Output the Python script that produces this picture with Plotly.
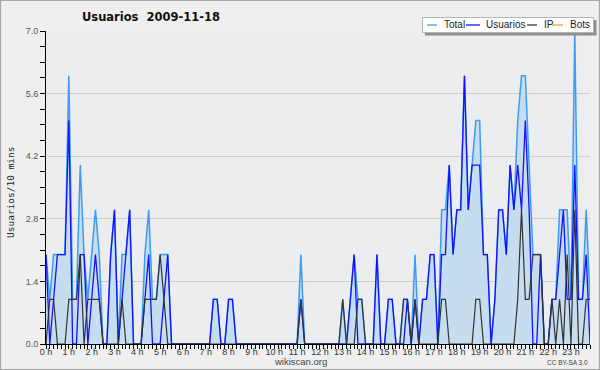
import plotly.graph_objects as go

# ---------------- data (10-minute slots, 2009-11-18) ----------------
HOURS = ["0 h", "1 h", "2 h", "3 h", "4 h", "5 h", "6 h", "7 h", "8 h", "9 h",
         "10 h", "11 h", "12 h", "13 h", "14 h", "15 h", "16 h", "17 h", "18 h",
         "19 h", "20 h", "21 h", "22 h", "23 h"]

TOTAL = [2, 1, 2, 2, 2, 2, 6, 1, 1, 4,
         2, 1, 2, 3, 2, 0, 0, 2, 3, 0,
         2, 2, 3, 0, 0, 0, 2, 3, 1, 1,
         2, 2, 2, 0, 0, 0, 0, 0, 0, 0,
         0, 0, 0, 0, 1, 1, 0, 0, 1, 1,
         0, 0, 0, 0, 0, 0, 0, 0, 0, 0,
         0, 0, 0, 0, 0, 0, 0, 2, 0, 0,
         0, 0, 0, 0, 0, 0, 0, 0, 1, 0,
         1, 2, 1, 1, 0, 0, 0, 2, 0, 0,
         1, 1, 0, 0, 1, 1, 0, 2, 0, 1,
         1, 2, 2, 0, 3, 3, 4, 2, 3, 3,
         6, 3, 4, 5, 5, 2, 2, 0, 1, 3,
         3, 2, 4, 3, 5, 6, 6, 4, 2, 2,
         2, 0, 0, 1, 1, 3, 3, 3, 1, 7,
         1, 1, 3, 1]

USUARIOS = [2, 0, 1, 2, 2, 2, 5, 0, 0, 2,
            2, 0, 1, 2, 1, 0, 0, 2, 3, 0,
            1, 2, 3, 0, 0, 0, 1, 2, 0, 0,
            0, 1, 2, 0, 0, 0, 0, 0, 0, 0,
            0, 0, 0, 0, 1, 1, 0, 0, 1, 1,
            0, 0, 0, 0, 0, 0, 0, 0, 0, 0,
            0, 0, 0, 0, 0, 0, 0, 1, 0, 0,
            0, 0, 0, 0, 0, 0, 0, 0, 0, 0,
            1, 2, 0, 0, 0, 0, 0, 2, 0, 0,
            1, 1, 0, 0, 0, 1, 0, 1, 0, 1,
            1, 2, 2, 0, 2, 2, 4, 2, 3, 3,
            6, 3, 4, 4, 4, 2, 2, 0, 1, 3,
            3, 2, 4, 3, 4, 3, 5, 3, 0, 0,
            2, 0, 0, 1, 1, 2, 3, 1, 1, 4,
            1, 1, 2, 0]

IP = [0, 1, 1, 0, 0, 0, 1, 1, 1, 2,
      0, 1, 1, 1, 1, 0, 0, 0, 0, 0,
      1, 0, 0, 0, 0, 0, 1, 1, 1, 1,
      2, 1, 0, 0, 0, 0, 0, 0, 0, 0,
      0, 0, 0, 0, 0, 0, 0, 0, 0, 0,
      0, 0, 0, 0, 0, 0, 0, 0, 0, 0,
      0, 0, 0, 0, 0, 0, 0, 1, 0, 0,
      0, 0, 0, 0, 0, 0, 0, 0, 1, 0,
      0, 0, 1, 1, 0, 0, 0, 0, 0, 0,
      0, 0, 0, 0, 1, 1, 0, 1, 0, 0,
      0, 0, 0, 0, 1, 1, 0, 0, 0, 0,
      0, 0, 0, 1, 1, 0, 0, 0, 0, 0,
      0, 0, 0, 0, 1, 3, 1, 1, 2, 2,
      2, 0, 0, 1, 0, 1, 0, 2, 0, 3,
      0, 0, 1, 1]

BOTS = [0, 0, 0, 0, 0, 0, 0, 0, 0, 0,
        0, 0, 0, 0, 0, 0, 0, 0, 0, 0,
        0, 0, 0, 0, 0, 0, 0, 0, 0, 0,
        0, 0, 0, 0, 0, 0, 0, 0, 0, 0,
        0, 0, 0, 0, 0, 0, 0, 0, 0, 0,
        0, 0, 0, 0, 0, 0, 0, 0, 0, 0,
        0, 0, 0, 0, 0, 0, 0, 0, 0, 0,
        0, 0, 0, 0, 0, 0, 0, 0, 0, 0,
        0, 0, 0, 0, 0, 0, 0, 0, 0, 0,
        0, 0, 0, 0, 0, 0, 0, 0, 0, 0,
        0, 0, 0, 0, 0, 0, 0, 0, 0, 0,
        0, 0, 0, 0, 0, 0, 0, 0, 0, 0,
        0, 0, 0, 0, 0, 0, 0, 0, 0, 0,
        0, 0, 0, 0, 0, 0, 0, 0, 0, 0,
        0, 0, 0, 0]

Y_TICKS = [0.0, 1.4, 2.8, 4.2, 5.6, 7.0]
Y_TICK_LABELS = ["0.0", "1.4", "2.8", "4.2", "5.6", "7.0"]

SERIES_NAMES = ["Total", "Usuarios", "IP", "Bots"]
COLORS = {"Total": "#3d9cf2", "Usuarios": "#1212ff", "IP": "#333333", "Bots": "#ffa31a"}

# ---------------- layout helpers ----------------
W, H = 600, 370
ML, MR, MT, MB = 46, 10, 31, 26
PW, PH = W - ML - MR, H - MT - MB


def px(x):
    return (x - ML) / PW


def py(y):
    return (H - MB - y) / PH


slots = list(range(len(TOTAL)))
hour_ticks = [h * 6 for h in range(len(HOURS))]

fig = go.Figure()
fig.add_trace(go.Scatter(x=slots, y=BOTS, name="Bots", mode="lines",
                         line=dict(color=COLORS["Bots"], width=1.2)))
fig.add_trace(go.Scatter(x=slots, y=TOTAL, name="Total", mode="lines",
                         line=dict(color=COLORS["Total"], width=1.5),
                         fill="tozeroy", fillcolor="#c6dcef"))
fig.add_trace(go.Scatter(x=slots, y=USUARIOS, name="Usuarios", mode="lines",
                         line=dict(color=COLORS["Usuarios"], width=1.3)))
fig.add_trace(go.Scatter(x=slots, y=IP, name="IP", mode="lines",
                         line=dict(color=COLORS["IP"], width=1.2)))

fig.update_layout(
    width=W, height=H,
    margin=dict(l=ML, r=MR, t=MT, b=MB, autoexpand=False),
    paper_bgcolor="#efefef", plot_bgcolor="#ecedef",
    showlegend=False,
    font=dict(family="Liberation Sans", size=9, color="#333"),
    title=dict(text="Usuarios \u00a02009-11-18", xref="paper", x=px(151), xanchor="center",
               yref="container", y=1 - 16.5 / H, yanchor="middle",
               font=dict(family="DejaVu Sans", size=11.5, color="#111", weight="bold")),
    xaxis=dict(range=[0, len(TOTAL) - 1], tickmode="array", tickvals=hour_ticks, ticktext=HOURS,
               ticks="", ticklabelstandoff=-1,
               showline=True, linecolor="black", linewidth=1,
               showgrid=False, zeroline=False,
               tickfont=dict(family="Liberation Sans", size=9, color="#333"),
               minor=dict(dtick=1, tick0=0, ticks="outside", ticklen=4, tickcolor="black",
                          tickwidth=1, showgrid=False),
               fixedrange=True),
    yaxis=dict(range=[0, 7], tickmode="array", tickvals=Y_TICKS, ticktext=Y_TICK_LABELS,
               ticks="outside", ticklen=5, tickcolor="black", tickwidth=1,
               showline=True, linecolor="black", linewidth=1,
               showgrid=True, gridcolor="#cdcdcd", gridwidth=1, zeroline=False,
               tickfont=dict(family="Liberation Sans", size=9, color="#555"),
               minor=dict(dtick=0.35, tick0=0, ticks="outside", ticklen=5, tickcolor="black",
                          tickwidth=1, showgrid=False),
               fixedrange=True),
)

shapes = [
    # outer frame
    dict(type="rect", xref="paper", yref="paper", x0=px(0.5), x1=px(599.5),
         y0=py(369.5), y1=py(0.5), line=dict(color="#a9a9a9", width=1.2), layer="above"),
    # legend shadow + box
    dict(type="rect", xref="paper", yref="paper", x0=px(425), x1=px(596.5),
         y0=py(35.5), y1=py(20), fillcolor="#8e8e8e", line=dict(width=0)),
    dict(type="rect", xref="paper", yref="paper", x0=px(422.5), x1=px(593.5),
         y0=py(32.5), y1=py(17.5), fillcolor="white", line=dict(color="#b4b4b4", width=1)),
]
annotations = [
    # y-axis title
    dict(text="Usuarios/10 mins", xref="paper", yref="paper", x=px(10), y=py(192),
         xanchor="center", yanchor="middle", textangle=-90, showarrow=False,
         font=dict(family="DejaVu Sans Mono", size=9.5, color="#222")),
    dict(text="wikiscan.org", xref="paper", yref="paper", x=px(300.5), y=py(361.5),
         xanchor="center", yanchor="middle", showarrow=False,
         font=dict(family="Liberation Sans", size=9.5, color="#444")),
    dict(text="CC BY-SA 3.0", xref="paper", yref="paper", x=px(589.5), y=py(362.5),
         xanchor="right", yanchor="middle", showarrow=False,
         font=dict(family="Liberation Sans", size=6.5, color="#444")),
]

legend_line_x = {"Total": (427, 437), "Usuarios": (466, 480), "IP": (527, 537), "Bots": (552, 563)}
legend_text_x = {"Total": 442, "Usuarios": 484, "IP": 542, "Bots": 568}
for name in SERIES_NAMES:
    x0, x1 = legend_line_x[name]
    shapes.append(dict(type="line", xref="paper", yref="paper", x0=px(x0), x1=px(x1),
                       y0=py(25), y1=py(25), line=dict(color=COLORS[name], width=1.3)))
    annotations.append(dict(text=name, xref="paper", yref="paper", x=px(legend_text_x[name]),
                            y=py(25), xanchor="left", yanchor="middle", showarrow=False,
                            font=dict(family="Liberation Sans", size=10, color="#222")))

fig.update_layout(shapes=shapes, annotations=annotations)

fig.write_html("out.html", config={"displayModeBar": False},
               post_script="document.body.style.margin='0';document.body.style.padding='0';")
